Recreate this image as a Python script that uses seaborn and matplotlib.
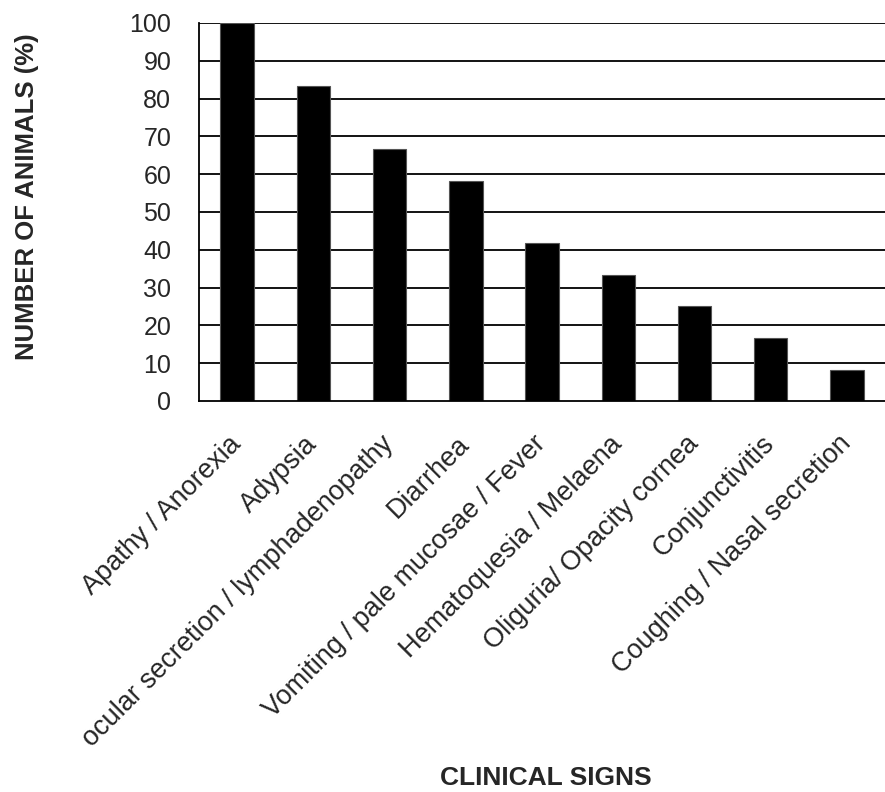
import matplotlib
matplotlib.use("Agg")
import matplotlib.pyplot as plt
import matplotlib.transforms as mtransforms
import seaborn as sns
import pandas as pd
import numpy as np

categories = ["Apathy / Anorexia", "Adypsia", "ocular secretion / lymphadenopathy",
              "Diarrhea", "Vomiting / pale mucosae / Fever", "Hematoquesia / Melaena",
              "Oliguria/ Opacity cornea", "Conjunctivitis", "Coughing / Nasal secretion"]
values = [100, 83.3, 66.7, 58.3, 41.7, 33.3, 25.0, 16.7, 8.3]
yticks = [0, 10, 20, 30, 40, 50, 60, 70, 80, 90, 100]

sns.set_style("white")
plt.rcParams['font.family'] = ['Liberation Sans', 'DejaVu Sans']

df = pd.DataFrame({"sign": categories, "pct": values})

fig = plt.figure(figsize=(8.85, 7.92), dpi=100)
ax = fig.add_axes([0.225, 0.4937, 0.775, 0.4773])

ax.set_axisbelow(True)
for t in yticks[1:]:
    ax.axhline(t, color="black", lw=1.3, zorder=0)

sns.barplot(data=df, x="sign", y="pct", color="black", width=0.44,
            saturation=1, ax=ax, edgecolor="#555555", linewidth=0.8, zorder=2)

n = len(categories)
ax.set_xlim(-0.5, n - 0.5)
ax.set_ylim(0, 100)
ax.set_yticks(yticks)
ax.set_yticklabels([str(t) for t in yticks], fontsize=18)

ax.set_xticks(np.arange(n))
ax.set_xticklabels(categories, rotation=45, ha="right", va="center",
                   rotation_mode="anchor", fontsize=19.5)
offset = mtransforms.ScaledTranslation(-11 / 100, 0, fig.dpi_scale_trans)
for lab in ax.get_xticklabels():
    lab.set_transform(lab.get_transform() + offset)
ax.set_xticks(np.arange(n + 1) - 0.5, minor=True)
ax.tick_params(axis="x", which="major", length=0, pad=28)
ax.tick_params(axis="x", which="minor", length=6, width=1.3, color="black", direction="out")
ax.tick_params(axis="y", length=8, width=1.3, color="black", direction="out", pad=12)

for s in ["top", "right"]:
    ax.spines[s].set_visible(False)
for s in ["left", "bottom"]:
    ax.spines[s].set_color("black")
    ax.spines[s].set_linewidth(1.3)

ax.set_xlabel("")
ax.set_ylabel("")
fig.text(0.617, 0.0177, "CLINICAL SIGNS", fontsize=19, fontweight="bold", ha="center", va="center")
fig.text(0.031, 0.752, "NUMBER OF ANIMALS (%)", fontsize=18.5, fontweight="bold",
         rotation=90, ha="center", va="center")

fig.savefig("out.png", dpi=100)
